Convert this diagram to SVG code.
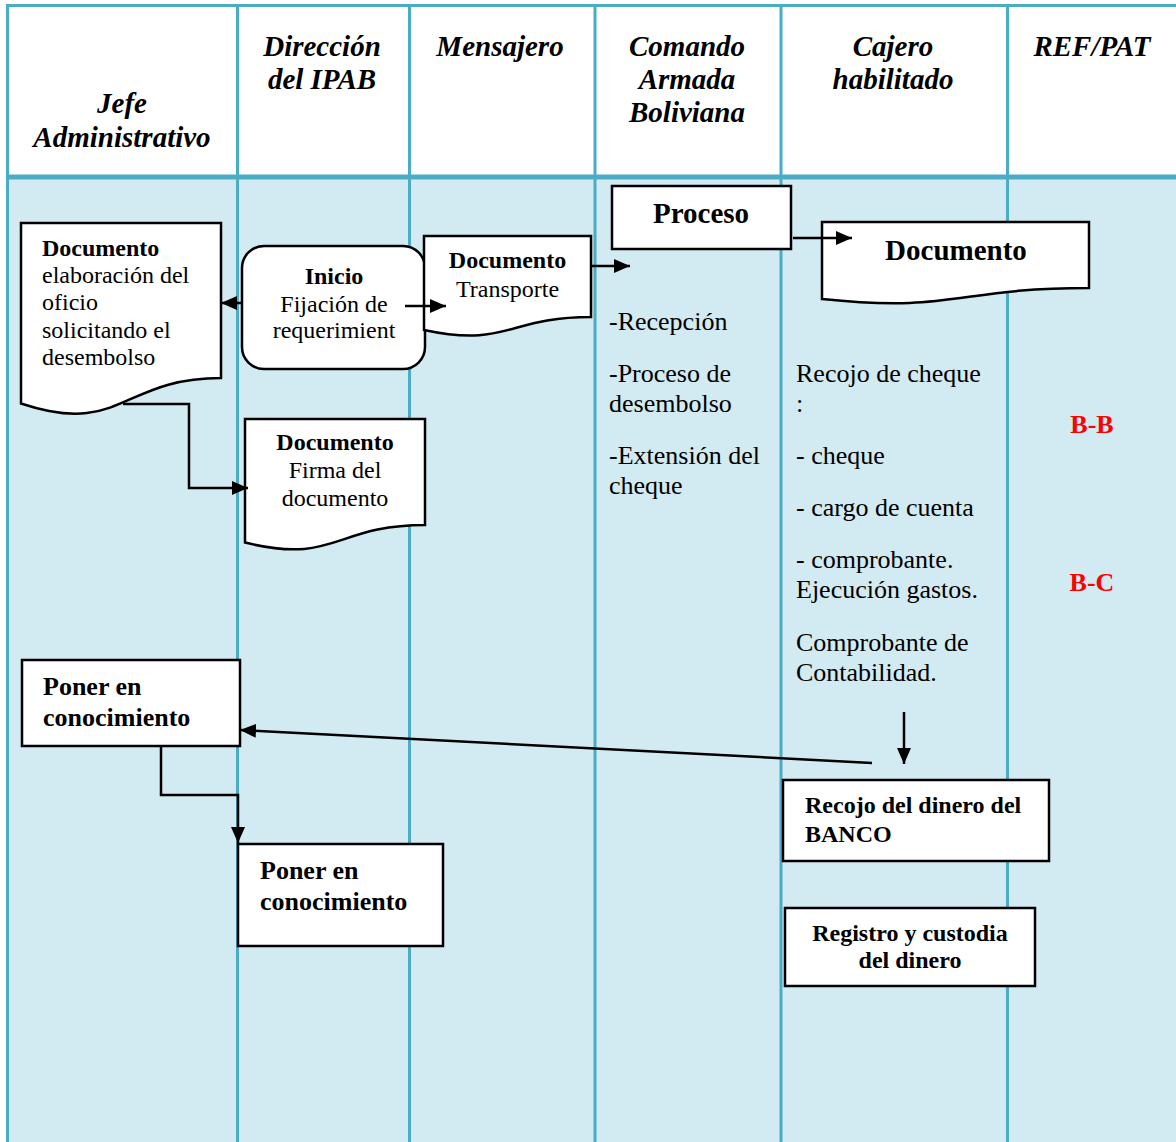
<svg xmlns="http://www.w3.org/2000/svg" width="1176" height="1142" viewBox="0 0 1176 1142">
  <defs>
    <style>
      .lane { stroke: #4bacc6; stroke-width: 3; fill: none; }
      .shape { fill: #ffffff; stroke: #000000; stroke-width: 2.5; }
      .conn { fill: none; stroke: #000000; stroke-width: 2.5; }
      text { font-family: "Liberation Serif", "Times New Roman", serif; fill: #000000; }
      .hdr { font-size: 29px; font-weight: bold; font-style: italic; text-anchor: middle; }
      .doc { font-size: 24px; }
      .b { font-weight: bold; }
      .mid { text-anchor: middle; }
      .col { font-size: 26px; }
      .ref { font-size: 26px; font-weight: bold; fill: #ff0000; text-anchor: middle; }
    </style>
    <marker id="arrow" viewBox="0 0 16 14" markerWidth="16" markerHeight="14" refX="16" refY="7" orient="auto" markerUnits="userSpaceOnUse">
      <path d="M0,0 L16,7 L0,14 Z" fill="#000000"/>
    </marker>
  </defs>

  <!-- swimlane frame -->
  <g id="lanes">
    <rect x="0" y="0" width="1176" height="1142" fill="#ffffff"/>
    <rect x="7.5" y="177" width="1168.5" height="965" fill="#d2eaf1"/>
    <line class="lane" x1="6" y1="5.5" x2="1176" y2="5.5"/>
    <line class="lane" x1="6" y1="177" x2="1176" y2="177" style="stroke-width:5"/>
    <line class="lane" x1="7.5" y1="4" x2="7.5" y2="1142"/>
    <line class="lane" x1="237.5" y1="4" x2="237.5" y2="1142"/>
    <line class="lane" x1="409.5" y1="4" x2="409.5" y2="1142"/>
    <line class="lane" x1="595" y1="4" x2="595" y2="1142"/>
    <line class="lane" x1="781" y1="4" x2="781" y2="1142"/>
    <line class="lane" x1="1007.5" y1="4" x2="1007.5" y2="1142"/>
  </g>

  <!-- lane headers -->
  <g id="headers">
    <text class="hdr" x="122" y="113">Jefe</text>
    <text class="hdr" x="122" y="147">Administrativo</text>
    <text class="hdr" x="322" y="56">Dirección</text>
    <text class="hdr" x="322" y="89">del IPAB</text>
    <text class="hdr" x="500" y="56">Mensajero</text>
    <text class="hdr" x="687" y="56">Comando</text>
    <text class="hdr" x="687" y="89">Armada</text>
    <text class="hdr" x="687" y="122">Boliviana</text>
    <text class="hdr" x="893" y="56">Cajero</text>
    <text class="hdr" x="893" y="89">habilitado</text>
    <text class="hdr" x="1092" y="56">REF/PAT</text>
  </g>

  <g id="doc-oficio">
    <path class="shape" d="M21,223 H221 V378 C121,378 121,437 21,403.5 Z"/>
    <text class="doc b" x="42" y="256">Documento</text>
    <text class="doc" x="42" y="283">elaboración del</text>
    <text class="doc" x="42" y="310">oficio</text>
    <text class="doc" x="42" y="338">solicitando el</text>
    <text class="doc" x="42" y="365">desembolso</text>
  </g>

  <g id="inicio">
    <rect class="shape" x="242" y="246" width="183" height="123" rx="22"/>
    <text class="doc b mid" x="334" y="284">Inicio</text>
    <text class="doc mid" x="334" y="312">Fijación de</text>
    <text class="doc mid" x="334" y="338">requerimient</text>
  </g>

  <g id="doc-transporte">
    <path class="shape" d="M424,236 H591 V317 C507.5,317 507.5,348 424,330 Z"/>
    <text class="doc b mid" x="507.5" y="268">Documento</text>
    <text class="doc mid" x="507.5" y="297">Transporte</text>
  </g>

  <g id="doc-firma">
    <path class="shape" d="M245,419 H425 V525 C335,525 335,565 245,542.5 Z"/>
    <text class="doc b mid" x="335" y="450">Documento</text>
    <text class="doc mid" x="335" y="478">Firma del</text>
    <text class="doc mid" x="335" y="506">documento</text>
  </g>

  <g id="proceso">
    <rect class="shape" x="612" y="186" width="179" height="63"/>
    <text class="b mid" x="701" y="223" style="font-size:29px">Proceso</text>
  </g>

  <g id="proceso-pasos">
    <text class="col" x="609" y="330">-Recepción</text>
    <text class="col" x="609" y="382">-Proceso de</text>
    <text class="col" x="609" y="412">desembolso</text>
    <text class="col" x="609" y="464">-Extensión del</text>
    <text class="col" x="609" y="494">cheque</text>
  </g>

  <g id="doc-cajero">
    <path class="shape" d="M822,222 H1089 V288 C955.5,288 955.5,313 822,299 Z"/>
    <text class="b mid" x="956" y="260" style="font-size:29px">Documento</text>
  </g>

  <g id="cajero-pasos">
    <text class="col" x="796" y="382">Recojo de cheque</text>
    <text class="col" x="796" y="412">:</text>
    <text class="col" x="796" y="464">- cheque</text>
    <text class="col" x="796" y="516">- cargo de cuenta</text>
    <text class="col" x="796" y="568">- comprobante.</text>
    <text class="col" x="796" y="598">Ejecución gastos.</text>
    <text class="col" x="796" y="651">Comprobante de</text>
    <text class="col" x="796" y="681">Contabilidad.</text>
  </g>

  <g id="ref-pat">
    <text class="ref" x="1092" y="433">B-B</text>
    <text class="ref" x="1092" y="591">B-C</text>
  </g>

  <g id="poner-jefe">
    <rect class="shape" x="22" y="660" width="218" height="86"/>
    <text class="b" x="43" y="695" style="font-size:26px">Poner en</text>
    <text class="b" x="43" y="726" style="font-size:26px">conocimiento</text>
  </g>

  <g id="poner-direccion">
    <rect class="shape" x="238" y="844" width="205" height="102"/>
    <text class="b" x="260" y="879" style="font-size:26px">Poner en</text>
    <text class="b" x="260" y="910" style="font-size:26px">conocimiento</text>
  </g>

  <g id="recojo-dinero">
    <rect class="shape" x="783" y="780" width="266" height="81"/>
    <text class="doc b" x="805" y="813">Recojo del dinero del</text>
    <text class="doc b" x="805" y="842">BANCO</text>
  </g>

  <g id="registro-custodia">
    <rect class="shape" x="785" y="908" width="250" height="78"/>
    <text class="doc b mid" x="910" y="941">Registro y custodia</text>
    <text class="doc b mid" x="910" y="968">del dinero</text>
  </g>

  <!-- connectors, drawn over the shapes -->
  <g id="connectors">
    <path class="conn" d="M242,303 H221" marker-end="url(#arrow)"/>
    <path class="conn" d="M405,306 H446" marker-end="url(#arrow)"/>
    <path class="conn" d="M591,266 H630" marker-end="url(#arrow)"/>
    <path class="conn" d="M793,238 H852" marker-end="url(#arrow)"/>
    <path class="conn" d="M123,404 H189 V488 H248" marker-end="url(#arrow)"/>
    <path class="conn" d="M161,747 V795 H238 V843" marker-end="url(#arrow)"/>
    <path class="conn" d="M872,763 L240,730" marker-end="url(#arrow)"/>
    <path class="conn" d="M904,712 V764" marker-end="url(#arrow)"/>
  </g>
</svg>
